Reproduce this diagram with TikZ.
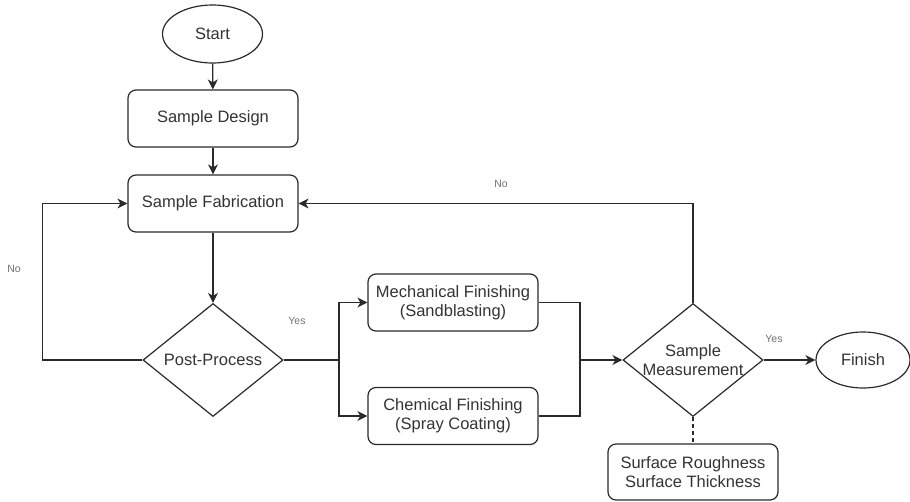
\documentclass[tikz,border=0pt]{standalone}
\usepackage{fontspec}
\setmainfont{Liberation Sans}
\usepackage{tikz}
\usetikzlibrary{shapes.geometric}
\usetikzlibrary{arrows.meta}
\usetikzlibrary{calc}

\definecolor{linegray}{HTML}{2A2A2A}
\definecolor{textgray}{HTML}{333333}
\definecolor{labelgray}{HTML}{707070}

\begin{document}
\begin{tikzpicture}[x=1pt, y=-1pt,
        every node/.style={font=\fontsize{16.5}{19}\selectfont, text=textgray},
        terminal/.style={ellipse, draw=linegray, line width=1.2pt, minimum width=100pt, minimum height=58pt, inner sep=0pt},
        process/.style={rectangle, rounded corners=8pt, draw=linegray, line width=1.2pt, minimum width=170pt, minimum height=57pt, align=center, inner sep=0pt},
        decision/.style={diamond, draw=linegray, line width=1.2pt, minimum width=140pt, minimum height=113pt, inner sep=0pt},
        arr/.style={-{Stealth[length=10pt, width=10pt, inset=3pt]}, line width=1.2pt, draw=linegray},
        link/.style={line width=1.2pt, draw=linegray},
        answer/.style={font=\fontsize{10.5}{12}\selectfont, text=labelgray}]
        \useasboundingbox (0,0) rectangle (910,501);

        % Main column
        \node[terminal] (start) at (212.5,34) {Start};
        \node[process] (design) at (213,118.5) {Sample Design};
        \node[process] (fab) at (213,203.5) {Sample Fabrication};
        \node[decision] (post) at (213,360) {};
        \node at (post) {Post-Process};

        % Finishing options
        \node[process] (mech) at (453,302.5) {Mechanical Finishing\\(Sandblasting)};
        \node[process] (chem) at (453,416) {Chemical Finishing\\(Spray Coating)};

        % Measurement and end
        \node[decision] (meas) at (693,360) {};
        \node[align=center] at (meas) {Sample\\Measurement};
        \node[terminal, minimum width=94pt, minimum height=56pt] (finish) at (863,360) {Finish};
        \node[process, minimum height=56pt] (surf) at (693,472) {Surface Roughness\\Surface Thickness};

        \coordinate (split) at (339,360);
        \coordinate (merge) at (580,360);

        % Connectors
        \draw[arr] (start) -- (design);
        \draw[arr] (design) -- (fab);
        \draw[arr] (fab) -- (post);
        \draw[arr] (post.west) -- ++(-100,0) |- (fab.west);
        \draw[link] (post.east) -- (split);
        \draw[arr] (split) |- (mech.west);
        \draw[arr] (split) |- (chem.west);
        \draw[link] (mech.east) -| (merge);
        \draw[link] (chem.east) -| (merge);
        \draw[arr] (merge) -- (meas.west);
        \draw[arr] (meas.north) |- (fab.east);
        \draw[arr] (meas.east) -- (finish.west);
        \draw[link, dashed, dash pattern=on 4pt off 3pt] (meas.south) -- (surf.north);

        % Branch labels
        \node[answer] (nopost) at (14,269) {No};
        \node[answer] (yespost) at (297,321) {Yes};
        \node[answer] (nomeas) at (501,184) {No};
        \node[answer] (yesmeas) at (774,339) {Yes};
    \end{tikzpicture}
\end{document}
